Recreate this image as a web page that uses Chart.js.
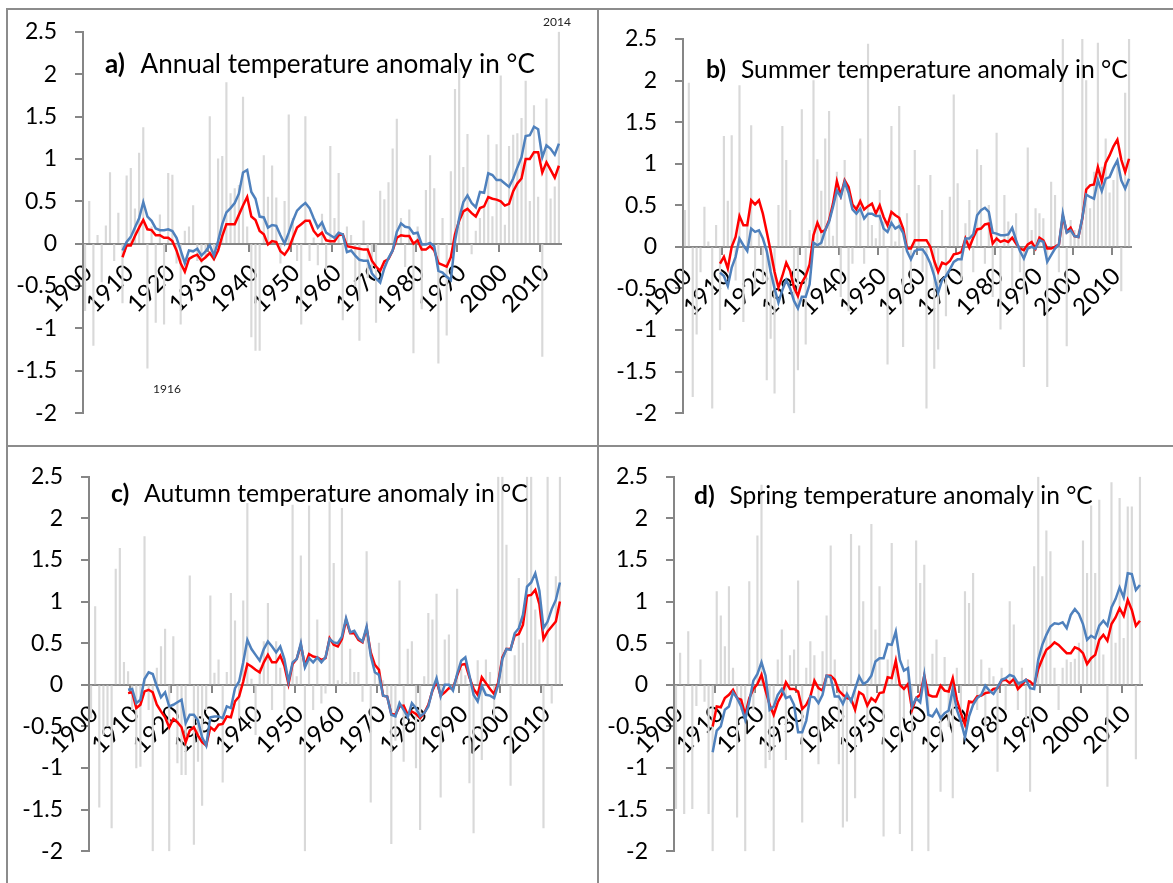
<!DOCTYPE html>
<html>
<head>
<meta charset="utf-8">
<script src="https://cdn.jsdelivr.net/npm/chart.js@4.4.1/dist/chart.umd.min.js"></script>
<style>
    body { margin: 0; background: #fff; }
    #fig { position: relative; width: 1173px; height: 883px; overflow: hidden; background: #fff; }
    #fig canvas { position: absolute; }
    .rule { position: absolute; background: #8c8c8c; z-index: 2; }
</style>
</head>
<body>
<div id="fig">
    <canvas id="panelA" width="598" height="445" style="left:0;top:0"></canvas>
    <canvas id="panelB" width="575" height="445" style="left:598px;top:0"></canvas>
    <canvas id="panelC" width="598" height="438" style="left:0;top:445px"></canvas>
    <canvas id="panelD" width="575" height="438" style="left:598px;top:445px"></canvas>
    <div class="rule" style="left:6px;top:8px;width:1167px;height:2px"></div>
    <div class="rule" style="left:6px;top:8px;width:2px;height:875px"></div>
    <div class="rule" style="left:597px;top:8px;width:2px;height:875px"></div>
    <div class="rule" style="left:6px;top:445px;width:1167px;height:2px"></div>
</div>
<script>
// years on the category axis, 1900-2014
const firstYear = 1900;
const lastYear = 2014;
const years = [];
for (let y = firstYear; y <= lastYear; y++) years.push(y);

// the two smoothed curves start in 1909
const lineStart = 1909;

// y axis range and step (°C)
const yMin = -2;
const yMax = 2.5;
const yStep = 0.5;

// panel titles
const titleTags = ['a)', 'b)', 'c)', 'd)'];
const titleTexts = [
    'Annual temperature anomaly in °C',
    'Summer temperature anomaly in °C',
    'Autumn temperature anomaly in °C',
    'Spring temperature anomaly in °C'
];

// extreme years marked on the annual panel
const annualMinLabel = '1916';
const annualMaxLabel = '2014';

// yearly anomalies (grey bars), 1900-2014
const annualBars = [
    -0.79, 0.50, -1.20, 0.10, -0.45, 0.21, 0.84, -0.20, 0.36, -0.70,
    0.80, 0.89, 0.41, 1.07, 1.37, -1.47, 0.20, -0.93, 0.34, -0.95,
    0.83, 0.81, -0.23, -0.95, 0.15, 0.20, 0.45, -0.20, -0.23, -0.16,
    1.50, -0.20, 1.00, 1.03, 1.90, 0.59, 0.65, 0.69, 1.73, 0.20,
    -1.10, -1.26, -1.26, 1.04, 0.55, 0.92, 0.54, -0.23, 0.50, 1.52,
    0.30, -0.20, -0.95, 1.50, -0.20, 0.07, -0.25, 0.35, -0.30, 1.15,
    0.30, 0.83, -0.90, 0.20, 0.10, -0.50, -1.14, 0.27, -0.40, -0.35,
    -0.93, 0.62, 0.52, 0.72, 1.12, 1.47, 0.30, -0.27, 0.40, -1.29,
    0.20, -0.77, 0.63, 1.04, 0.65, -1.41, 0.30, -1.08, 0.85, 1.82,
    2.07, 0.90, 1.29, -0.12, 0.15, 0.30, 0.45, 1.28, 0.32, 1.17,
    1.98, 0.22, 1.15, 1.28, 1.30, 1.48, 1.92, 0.50, 1.63, 0.55,
    -1.33, 1.71, 0.53, 0.67, 2.50
];
const summerBars = [
    0.44, 1.97, -1.80, -1.05, -0.30, 0.48, 0.06, -1.94, 0.26, -1.00,
    1.33, 0.55, 1.34, -0.40, 1.94, -0.90, 0.30, 1.46, -0.50, 0.20,
    -0.41, -1.60, -1.10, -1.76, 0.50, 1.45, 1.04, 0.44, -2.00, -1.48,
    1.65, -1.17, 0.20, 2.00, 1.05, 0.67, 1.30, 1.63, 0.13, 0.90,
    -0.60, 1.04, -0.77, -0.20, 0.50, 1.30, -0.20, 2.44, 0.26, 0.10,
    0.68, 0.30, -1.41, 1.45, 0.06, 1.69, -1.20, 0.40, -0.50, 1.16,
    0.74, -0.30, -1.94, 0.86, -1.46, -1.23, 0.44, -0.83, 0.60, 1.83,
    0.76, -0.40, 0.28, 0.56, -0.30, 1.17, 0.98, -0.20, 0.50, -0.60,
    1.37, -0.99, 0.62, 0.30, -0.50, 0.40, -0.30, -1.44, 1.19, 0.20,
    0.46, 0.40, 0.34, -1.68, 0.78, 0.62, -0.30, 2.50, -1.19, 0.32,
    0.20, 0.18, 2.50, 2.00, 0.46, 0.90, 2.45, 0.96, 1.30, 0.65,
    0.80, 1.00, -0.53, 1.85, 2.50
];
const autumnBars = [
    -0.40, 0.94, -1.47, -0.60, -0.50, -1.72, 1.39, 1.64, 0.27, 0.16,
    -0.30, -1.00, -0.98, 1.78, -0.30, -2.00, 0.20, 0.46, 0.67, -2.00,
    0.58, -0.94, -1.08, -1.08, 1.31, -1.92, -0.92, -1.45, -0.30, 1.07,
    0.14, 0.30, -1.17, 0.15, 1.10, 0.77, -0.40, 1.01, 2.18, 0.07,
    -0.60, 0.20, 0.52, 0.98, -0.30, 0.52, 0.20, -0.30, 0.10, 2.16,
    0.10, 1.55, -2.00, 2.15, -0.30, 0.78, -0.22, -0.10, 2.20, 1.46,
    0.05, 2.12, 0.03, 0.43, 0.15, 0.15, -0.20, 1.60, -1.41, 0.15,
    0.50, 0.05, -0.12, -1.91, -0.67, 1.25, -0.92, 0.43, 0.52, -1.00,
    -1.74, 0.10, 0.86, 0.78, 1.09, -1.35, 0.54, 0.60, -0.07, 1.15,
    0.19, 0.11, -1.18, -1.78, 0.29, -0.90, 0.30, 0.15, -0.40, 2.50,
    2.50, 1.68, -1.21, 0.35, 1.28, 0.50, 2.50, 2.50, 0.90, 0.54,
    -1.72, 2.50, -0.22, 1.30, 2.50
];
const springBars = [
    -1.49, 0.38, -1.55, 0.64, -1.49, -0.25, 0.30, -0.20, -1.55, -2.00,
    1.12, 0.83, 0.46, 1.18, 0.20, -1.59, -0.30, -2.00, 1.24, -0.30,
    1.79, 2.40, -1.00, -0.90, -2.00, 0.30, 0.66, -0.90, 0.35, 0.42,
    1.25, -1.65, 0.20, 0.52, 0.35, -0.95, 0.40, 0.83, 1.67, 0.30,
    -0.95, -1.71, -1.64, 1.81, -1.36, 1.67, 1.00, -0.50, 1.93, 0.66,
    1.18, -1.82, 0.30, 1.70, 0.30, -1.79, -0.40, 0.30, -2.00, 1.73,
    1.22, 1.44, -2.00, 0.37, 0.54, -1.28, 0.33, -0.50, -1.36, 0.20,
    -0.50, 1.12, 0.98, 1.34, -0.30, 0.30, -0.50, 0.20, 0.10, -1.04,
    0.20, -0.30, 1.00, 0.72, -0.30, 0.20, -0.40, -1.28, 1.42, 2.50,
    1.30, 1.85, 1.60, 0.20, -0.30, 0.20, 0.30, 0.27, 0.31, 0.50,
    1.73, 1.34, 2.15, 1.34, 2.22, 0.36, -1.22, 2.43, 0.50, 2.24,
    0.56, 2.14, 2.14, -0.89, 2.50
];

// smoothed curves, 1909-2014: red and blue
const annualRed = [
    -0.16, -0.02, -0.02, 0.09, 0.19, 0.28, 0.17, 0.16, 0.10, 0.10,
    0.07, 0.07, 0.03, -0.08, -0.23, -0.33, -0.18, -0.15, -0.13, -0.20,
    -0.16, -0.11, -0.18, -0.08, 0.09, 0.23, 0.23, 0.23, 0.34, 0.45,
    0.55, 0.32, 0.28, 0.15, 0.11, -0.01, 0.03, 0.02, -0.09, -0.13,
    -0.06, 0.07, 0.19, 0.23, 0.27, 0.27, 0.15, 0.09, 0.13, 0.04,
    0.03, 0.03, 0.10, 0.11, -0.03, -0.04, -0.05, -0.06, -0.07, -0.07,
    -0.20, -0.27, -0.32, -0.21, -0.18, -0.08, 0.07, 0.10, 0.09, 0.09,
    0.00, 0.04, -0.07, -0.07, -0.03, -0.08, -0.23, -0.25, -0.27, -0.16,
    0.11, 0.27, 0.38, 0.41, 0.36, 0.32, 0.42, 0.44, 0.55, 0.53,
    0.52, 0.50, 0.45, 0.47, 0.62, 0.71, 0.77, 1.00, 1.00, 1.08,
    1.08, 0.84, 0.96, 0.87, 0.78, 0.92
];
const annualBlue = [
    -0.08, 0.02, 0.08, 0.19, 0.30, 0.49, 0.32, 0.27, 0.18, 0.16,
    0.16, 0.17, 0.15, 0.07, -0.08, -0.23, -0.08, -0.09, -0.06, -0.14,
    -0.09, -0.02, -0.14, 0.03, 0.23, 0.37, 0.42, 0.48, 0.59, 0.84,
    0.87, 0.61, 0.53, 0.32, 0.31, 0.19, 0.22, 0.21, 0.10, 0.00,
    0.13, 0.27, 0.39, 0.44, 0.48, 0.42, 0.30, 0.19, 0.25, 0.13,
    0.10, 0.07, 0.13, 0.11, -0.10, -0.08, -0.14, -0.19, -0.20, -0.20,
    -0.35, -0.41, -0.46, -0.29, -0.17, -0.08, 0.14, 0.24, 0.20, 0.19,
    0.12, 0.13, -0.01, -0.01, 0.01, -0.03, -0.32, -0.34, -0.39, -0.43,
    0.03, 0.30, 0.49, 0.57, 0.48, 0.43, 0.61, 0.60, 0.83, 0.81,
    0.75, 0.75, 0.71, 0.67, 0.77, 0.90, 1.02, 1.27, 1.28, 1.38,
    1.35, 1.02, 1.16, 1.12, 1.05, 1.18
];
const summerRed = [
    -0.20, -0.12, -0.26, 0.00, 0.12, 0.37, 0.26, 0.26, 0.56, 0.51,
    0.56, 0.40, 0.18, -0.05, -0.30, -0.49, -0.35, -0.19, -0.29, -0.49,
    -0.59, -0.43, -0.35, -0.21, 0.14, 0.29, 0.18, 0.20, 0.32, 0.52,
    0.79, 0.62, 0.80, 0.72, 0.51, 0.45, 0.55, 0.45, 0.49, 0.52,
    0.40, 0.50, 0.36, 0.26, 0.42, 0.38, 0.35, 0.22, -0.02, -0.02,
    0.08, 0.08, 0.08, 0.08, 0.00, -0.17, -0.30, -0.19, -0.21, -0.17,
    -0.09, -0.08, -0.06, 0.10, -0.01, 0.11, 0.21, 0.22, 0.27, 0.28,
    0.04, 0.10, 0.06, 0.08, 0.06, 0.11, 0.04, -0.02, -0.04, 0.03,
    0.06, -0.02, 0.11, 0.08, -0.02, -0.02, 0.00, 0.03, 0.37, 0.18,
    0.23, 0.13, 0.12, 0.34, 0.69, 0.74, 0.75, 0.96, 0.79, 1.01,
    1.10, 1.21, 1.29, 1.05, 0.90, 1.06
];
const summerBlue = [
    -0.31, -0.35, -0.47, -0.25, -0.12, 0.10, 0.02, -0.05, 0.22, 0.18,
    0.20, 0.10, -0.05, -0.30, -0.50, -0.67, -0.52, -0.40, -0.50, -0.65,
    -0.74, -0.60, -0.60, -0.45, 0.05, 0.02, 0.05, 0.20, 0.30, 0.48,
    0.68, 0.60, 0.78, 0.65, 0.45, 0.40, 0.46, 0.34, 0.40, 0.40,
    0.37, 0.37, 0.22, 0.18, 0.29, 0.22, 0.25, 0.17, -0.05, -0.15,
    -0.05, -0.03, -0.03, -0.10, -0.20, -0.35, -0.55, -0.40, -0.35, -0.27,
    -0.18, -0.15, -0.15, 0.10, 0.10, 0.15, 0.38, 0.44, 0.47, 0.42,
    0.17, 0.16, 0.14, 0.14, 0.15, 0.23, 0.08, -0.05, -0.14, -0.02,
    0.00, -0.02, 0.08, 0.06, -0.18, -0.10, -0.02, 0.03, 0.40, 0.17,
    0.20, 0.13, 0.12, 0.35, 0.63, 0.60, 0.58, 0.80, 0.67, 0.82,
    0.84, 0.95, 1.04, 0.80, 0.70, 0.82
];
const autumnRed = [
    -0.10, -0.09, -0.28, -0.24, -0.08, -0.06, -0.09, -0.24, -0.32, -0.39,
    -0.51, -0.41, -0.45, -0.51, -0.69, -0.55, -0.51, -0.61, -0.69, -0.73,
    -0.51, -0.55, -0.48, -0.47, -0.38, -0.39, -0.20, -0.14, 0.04, 0.25,
    0.22, 0.18, 0.15, 0.27, 0.36, 0.27, 0.27, 0.35, 0.23, 0.01,
    0.25, 0.31, 0.48, 0.23, 0.37, 0.34, 0.33, 0.30, 0.32, 0.56,
    0.48, 0.46, 0.55, 0.78, 0.62, 0.62, 0.54, 0.51, 0.68, 0.39,
    0.24, 0.18, -0.13, -0.14, -0.35, -0.36, -0.26, -0.25, -0.36, -0.32,
    -0.35, -0.40, -0.34, -0.24, -0.07, 0.04, -0.13, -0.09, -0.04, -0.04,
    0.11, 0.24, 0.25, 0.09, -0.05, -0.12, 0.09, 0.02, -0.05, -0.11,
    0.03, 0.33, 0.43, 0.43, 0.59, 0.61, 0.72, 1.07, 1.08, 1.14,
    0.97, 0.55, 0.64, 0.70, 0.76, 1.00
];
const autumnBlue = [
    -0.06, -0.05, -0.22, -0.18, 0.07, 0.15, 0.13, -0.02, -0.15, -0.09,
    -0.26, -0.24, -0.21, -0.18, -0.46, -0.36, -0.36, -0.43, -0.63, -0.73,
    -0.39, -0.38, -0.38, -0.40, -0.26, -0.28, -0.04, 0.04, 0.27, 0.54,
    0.43, 0.36, 0.29, 0.43, 0.52, 0.46, 0.39, 0.46, 0.31, 0.04,
    0.27, 0.31, 0.50, 0.21, 0.32, 0.27, 0.33, 0.27, 0.33, 0.55,
    0.51, 0.50, 0.58, 0.80, 0.63, 0.65, 0.56, 0.52, 0.70, 0.35,
    0.15, 0.12, -0.13, -0.14, -0.36, -0.38, -0.22, -0.30, -0.39, -0.22,
    -0.28, -0.38, -0.34, -0.26, -0.06, 0.08, -0.14, 0.00, 0.00, -0.07,
    0.13, 0.29, 0.33, 0.11, -0.12, -0.20, -0.01, -0.12, -0.13, -0.16,
    0.00, 0.31, 0.43, 0.42, 0.62, 0.68, 0.84, 1.18, 1.23, 1.34,
    1.13, 0.68, 0.76, 0.91, 1.02, 1.23
];
const springRed = [
    -0.50, -0.26, -0.27, -0.16, -0.12, -0.06, -0.16, -0.18, -0.36, -0.16,
    -0.05, 0.01, 0.12, -0.07, -0.24, -0.36, -0.21, -0.12, 0.03, -0.05,
    -0.05, -0.08, -0.29, -0.24, -0.14, 0.05, -0.04, -0.07, 0.11, 0.11,
    0.06, -0.07, -0.12, -0.16, -0.17, -0.30, -0.09, -0.12, -0.25, -0.16,
    -0.20, -0.10, -0.09, 0.09, 0.08, 0.29, 0.00, -0.05, 0.01, -0.30,
    -0.16, -0.12, 0.11, -0.12, -0.14, -0.14, -0.01, -0.07, -0.08, 0.08,
    -0.18, -0.34, -0.48, -0.20, -0.21, -0.14, -0.13, -0.10, -0.09, -0.05,
    -0.04, 0.05, 0.06, 0.02, 0.07, -0.05, 0.00, 0.06, 0.04, -0.01,
    0.19, 0.31, 0.42, 0.46, 0.51, 0.48, 0.43, 0.38, 0.38, 0.45,
    0.43, 0.38, 0.25, 0.32, 0.36, 0.54, 0.60, 0.53, 0.73, 0.81,
    0.92, 0.83, 1.02, 0.90, 0.71, 0.77
];
const springBlue = [
    -0.81, -0.55, -0.50, -0.30, -0.26, -0.09, -0.16, -0.26, -0.42, -0.20,
    0.05, 0.13, 0.27, 0.11, -0.30, -0.26, -0.12, -0.05, -0.16, -0.14,
    -0.24, -0.57, -0.57, -0.43, -0.14, -0.15, -0.22, -0.12, 0.11, 0.09,
    -0.14, -0.14, -0.23, -0.11, -0.20, -0.05, 0.10, 0.01, 0.04, 0.11,
    0.28, 0.32, 0.32, 0.49, 0.48, 0.64, 0.30, 0.17, 0.20, -0.26,
    -0.16, -0.21, 0.11, -0.36, -0.38, -0.30, -0.40, -0.34, -0.31, -0.05,
    -0.30, -0.44, -0.63, -0.38, -0.24, -0.16, -0.12, -0.01, -0.07, -0.11,
    -0.03, 0.06, 0.08, 0.12, 0.10, 0.02, 0.03, 0.06, -0.04, -0.05,
    0.30, 0.48, 0.60, 0.70, 0.74, 0.73, 0.75, 0.68, 0.84, 0.91,
    0.85, 0.73, 0.54, 0.59, 0.56, 0.71, 0.77, 0.71, 0.93, 1.03,
    1.17, 1.05, 1.34, 1.33, 1.14, 1.20
];

const axisGrey = '#868686';
const barGrey = '#d9d9d9';
const redLine = '#ff0000';
const blueLine = '#4f81bd';

// curves only have values from lineStart on
function pad(values) {
    return years.map(y => (y < lineStart ? null : values[y - lineStart]));
}

// draws the panel title (bold tag + text) and any small notes
const panelText = {
    id: 'panelText',
    afterDraw(chart, args, opts) {
        const ctx = chart.ctx;
        ctx.save();
        ctx.fillStyle = '#000';
        ctx.textBaseline = 'alphabetic';
        ctx.textAlign = 'left';
        // scale the font so the title spans the same width as in the figure
        const base = 24;
        ctx.font = `bold ${base}px Lato`;
        const w1 = ctx.measureText(opts.tag).width;
        ctx.font = `${base}px Lato`;
        const w2 = ctx.measureText(opts.text).width;
        const size = base * opts.width / (w1 + base * 0.6 + w2);
        ctx.font = `bold ${size}px Lato`;
        ctx.fillText(opts.tag, opts.x, opts.y);
        const tagW = ctx.measureText(opts.tag).width;
        ctx.font = `${size}px Lato`;
        ctx.fillText(opts.text, opts.x + tagW + size * 0.6, opts.y);

        (opts.notes || []).forEach(n => {
            ctx.font = '12px Lato';
            ctx.fillStyle = '#222';
            ctx.textAlign = 'center';
            ctx.fillText(n.text, n.x, n.y);
        });
        ctx.restore();
    }
};

function makePanel(id, box, idx, bars, red, blue, notes) {
    const canvas = document.getElementById(id);
    const labels = years.map(String);

    new Chart(canvas, {
        type: 'bar',
        data: {
            labels: labels,
            datasets: [
                {
                    type: 'line',
                    data: pad(blue),
                    borderColor: blueLine,
                    borderWidth: 2.5,
                    pointRadius: 0,
                    tension: 0,
                    order: 1
                },
                {
                    type: 'line',
                    data: pad(red),
                    borderColor: redLine,
                    borderWidth: 2.5,
                    pointRadius: 0,
                    tension: 0,
                    order: 2
                },
                {
                    data: bars,
                    backgroundColor: barGrey,
                    barThickness: 1.5,
                    order: 3
                }
            ]
        },
        options: {
            responsive: false,
            animation: false,
            devicePixelRatio: 1,
            layout: {
                padding: { left: 0, top: box.t, right: box.w - box.r, bottom: box.h - box.b }
            },
            plugins: {
                legend: { display: false },
                tooltip: { enabled: false },
                panelText: {
                    tag: titleTags[idx],
                    text: titleTexts[idx],
                    x: box.tx,
                    y: box.ty,
                    width: box.tw,
                    notes: notes
                }
            },
            scales: {
                x: {
                    type: 'category',
                    position: { y: 0 },
                    offset: true,
                    grid: {
                        display: true,
                        drawOnChartArea: false,
                        drawTicks: true,
                        tickLength: 7,
                        lineWidth: 2,
                        color: c => (c.index % 10 === 0 ? axisGrey : 'rgba(0,0,0,0)')
                    },
                    border: { display: true, color: axisGrey, width: 2 },
                    ticks: {
                        autoSkip: false,
                        minRotation: 45,
                        maxRotation: 45,
                        padding: 8,
                        labelOffset: 3,
                        color: '#000',
                        font: { family: 'Lato', size: 24 },
                        callback: (v, i) => (i % 10 === 0 ? labels[i] : '')
                    }
                },
                y: {
                    min: yMin,
                    max: yMax,
                    afterFit: s => { s.width = box.l; },
                    grid: {
                        display: true,
                        drawOnChartArea: false,
                        drawTicks: true,
                        tickLength: 8,
                        lineWidth: 2,
                        color: axisGrey
                    },
                    border: { display: true, color: axisGrey, width: 2 },
                    ticks: {
                        stepSize: yStep,
                        padding: 18,
                        color: '#000',
                        font: { family: 'Lato', size: 23 },
                        callback: v => String(+v.toFixed(1))
                    }
                }
            }
        },
        plugins: [panelText]
    });
}

function build() {
    makePanel('panelA',
        { w: 598, h: 445, l: 83, r: 561, t: 30, b: 419, tx: 105, ty: 73, tw: 430 },
        0, annualBars, annualRed, annualBlue,
        [{ text: annualMinLabel, x: 167, y: 393 }, { text: annualMaxLabel, x: 557, y: 26 }]);
    makePanel('panelB',
        { w: 575, h: 445, l: 85, r: 533, t: 39, b: 417, tx: 108, ty: 78, tw: 422 },
        1, summerBars, summerRed, summerBlue, []);
    makePanel('panelC',
        { w: 598, h: 438, l: 89, r: 562, t: 30, b: 413, tx: 111, ty: 57, tw: 417 },
        2, autumnBars, autumnRed, autumnBlue, []);
    makePanel('panelD',
        { w: 575, h: 438, l: 76, r: 544, t: 30, b: 413, tx: 96, ty: 59, tw: 399 },
        3, springBars, springRed, springBlue, []);
}

Promise.all([
    document.fonts.load('23px Lato'),
    document.fonts.load('bold 23px Lato')
]).then(build, build);
</script>
</body>
</html>
